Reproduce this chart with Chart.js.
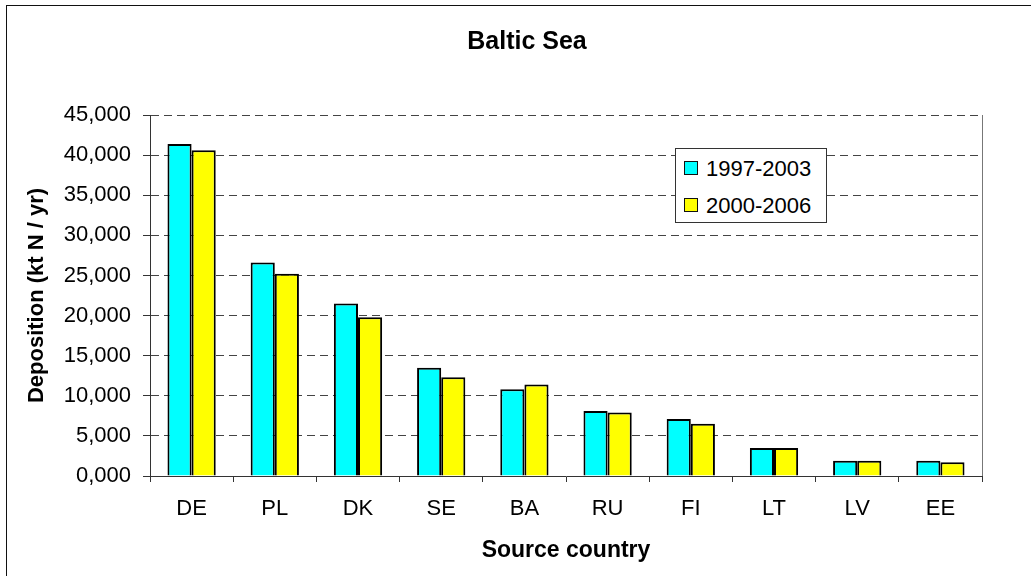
<!DOCTYPE html>
<html>
<head>
<meta charset="utf-8">
<script src="https://cdn.jsdelivr.net/npm/chart.js@4"></script>
<style>
  html, body { margin: 0; padding: 0; background: #fff; overflow: hidden; }
  #wrap { position: relative; width: 1031px; height: 576px; overflow: hidden; }
  #frame { position: absolute; left: 6px; top: 5px; width: 1100px; height: 700px; border: 1px solid #111; }
  #legend { position: absolute; left: 675px; top: 148px; width: 150px; height: 73px;
    border: 1px solid #333; background: #fff; font: 22px "Liberation Sans", Arial, sans-serif; }
  #legend div { position: absolute; left: 8px; height: 26px; line-height: 26px; }
  #legend span.box { display: inline-block; width: 12px; height: 12px; border: 1.5px solid #111;
    vertical-align: middle; margin-right: 8px; position: relative; top: -2px; }
</style>
</head>
<body>
<div id="wrap">
  <div id="frame"></div>
  <canvas id="myChart" width="1031" height="576"></canvas>
  <div id="legend"></div>
</div>
<script>
// data (kt N / yr)
let countries = ["DE", "PL", "DK", "SE", "BA", "RU", "FI", "LT", "LV", "EE"];
let period1 = [41.4, 26.6, 21.5, 13.5, 10.8, 8.1, 7.1, 3.5, 1.9, 1.9];
let period2 = [40.6, 25.2, 19.8, 12.3, 11.4, 7.9, 6.5, 3.5, 1.9, 1.7];
let seriesNames = ["1997-2003", "2000-2006"];
let seriesColors = ["#00FFFF", "#FFFF00"];
let yTicks = [0, 5, 10, 15, 20, 25, 30, 35, 40, 45];

const font = "'Liberation Sans', Arial, sans-serif";

// right edge of the plot box + title centred over the plot, not the canvas
const plotBox = {
  id: "plotBox",
  afterLayout(chart) {
    if (chart.titleBlock) chart.titleBlock.left += 72;
  },
  afterDraw(chart) {
    const a = chart.chartArea;
    const ctx = chart.ctx;
    ctx.save();
    ctx.strokeStyle = "#777";
    ctx.lineWidth = 1;
    ctx.beginPath();
    ctx.moveTo(Math.round(a.right) + 0.5, a.top);
    ctx.lineTo(Math.round(a.right) + 0.5, a.bottom);
    ctx.stroke();
    ctx.restore();
  },
};

new Chart("myChart", {
  type: "bar",
  data: {
    labels: countries,
    datasets: [
      { label: seriesNames[0], data: period1, backgroundColor: seriesColors[0] },
      { label: seriesNames[1], data: period2, backgroundColor: seriesColors[1] },
    ],
  },
  options: {
    responsive: false,
    animation: false,
    layout: { padding: { left: 0, right: 49, top: 0, bottom: 0 } },
    datasets: {
      bar: { categoryPercentage: 0.58, barPercentage: 1, borderColor: "#000", borderWidth: 2 },
    },
    plugins: {
      legend: { display: false },
      tooltip: { enabled: false },
      title: {
        display: true,
        text: "Baltic Sea",
        color: "#000",
        font: { family: font, size: 25, weight: "bold" },
        padding: { top: 27, bottom: 58 },
      },
    },
    scales: {
      x: {
        afterFit: (s) => { s.height = 100; },
        grid: { offset: true, drawOnChartArea: false, tickLength: 6, color: "#333" },
        border: { color: "#333", width: 1 },
        ticks: { color: "#000", padding: 14, font: { family: font, size: 22 } },
        title: {
          display: true,
          text: "Source country",
          color: "#000",
          font: { family: font, size: 23, weight: "bold" },
          padding: { top: 0, bottom: 12 },
        },
      },
      y: {
        min: 0,
        max: 45,
        afterFit: (s) => { s.width = 150; },
        afterBuildTicks: (s) => { s.ticks = yTicks.map((v) => ({ value: v })); },
        grid: { color: "#444", lineWidth: 1, tickLength: 7, tickColor: "#333", tickBorderDash: [] },
        border: { color: "#333", width: 1, dash: [8, 5] },
        ticks: {
          color: "#000",
          padding: 12,
          font: { family: font, size: 22 },
          callback: (v) => v.toFixed(3).replace(".", ","),
        },
        title: {
          display: true,
          text: "Deposition (kt N / yr)",
          color: "#000",
          font: { family: font, size: 22, weight: "bold" },
          padding: { top: 24, bottom: 0 },
        },
      },
    },
  },
  plugins: [plotBox],
});

// legend box inside the plot
let legend = document.getElementById("legend");
seriesNames.forEach((name, i) => {
  let row = document.createElement("div");
  row.style.top = (7 + i * 37) + "px";
  let box = document.createElement("span");
  box.className = "box";
  box.style.background = seriesColors[i];
  row.appendChild(box);
  row.appendChild(document.createTextNode(name));
  legend.appendChild(row);
});
</script>
</body>
</html>
